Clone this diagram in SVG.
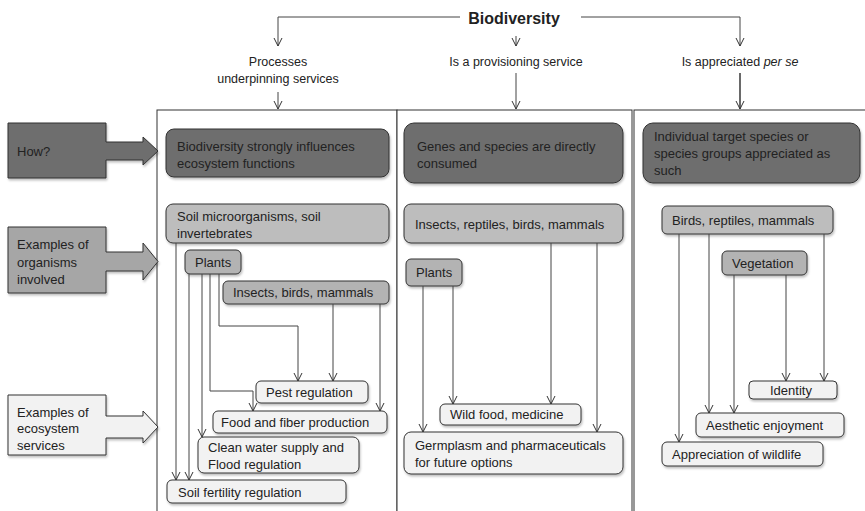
<svg xmlns="http://www.w3.org/2000/svg" width="865" height="511" viewBox="0 0 865 511">
<defs>
<filter id="sh" x="-10%" y="-10%" width="120%" height="130%">
<feDropShadow dx="1" dy="2" stdDeviation="1.2" flood-color="#000" flood-opacity="0.25"/>
</filter>
<marker id="ah" viewBox="-9 -5 10 10" refX="0" refY="0" markerWidth="10" markerHeight="10" markerUnits="userSpaceOnUse" orient="auto">
<path d="M-8,-4 L0,0 L-8,4" fill="none" stroke="#333" stroke-width="1"/>
</marker>
</defs>
<style>
text{font-family:"Liberation Sans",Arial,sans-serif;font-size:13px;fill:#222}
.hd{font-size:12.5px}
.col{fill:#fff;stroke:#333;stroke-width:1}
.n{stroke:#333;stroke-width:1;filter:url(#sh)}
.dk{fill:#6e6e6e}
.md{fill:#bdbdbd}
.pl{fill:#b3b3b3}
.lt{fill:#f2f2f2}
.c{fill:none;stroke:#444;stroke-width:1;marker-end:url(#ah)}
.blk{stroke:#333;stroke-width:1;filter:url(#sh)}
</style>

<rect width="865" height="511" fill="#fff"/>

<g id="columns">
<rect class="col" x="157" y="110" width="240" height="420"/>
<rect class="col" x="397" y="110" width="235" height="420"/>
<rect class="col" x="634" y="110" width="240" height="420"/>
</g>

<g id="title">
<text x="514" y="24" text-anchor="middle" style="font-size:16px;font-weight:bold">Biodiversity</text>
</g>
<g id="label-processes">
<text class="hd" x="278" y="66" text-anchor="middle">Processes</text>
<text class="hd" x="278" y="83" text-anchor="middle">underpinning services</text>
</g>
<g id="label-provisioning">
<text class="hd" x="516" y="66" text-anchor="middle">Is a provisioning service</text>
</g>
<g id="label-perse">
<text class="hd" x="740" y="66" text-anchor="middle">Is appreciated <tspan font-style="italic">per se</tspan></text>
</g>

<g id="arrow-how">
<polygon class="blk" fill="#6e6e6e" points="8,123 106,123 106,142 143,142 143,137 158,151 143,165 143,160 106,160 106,178 8,178"/>
<text x="17" y="156">How?</text>
</g>
<g id="arrow-organisms">
<polygon class="blk" fill="#a6a6a6" points="8,227 106,227 106,252 143,252 143,243 158,261.5 143,280 143,271 106,271 106,293 8,293"/>
<text x="17" y="249">Examples of</text>
<text x="17" y="267">organisms</text>
<text x="17" y="284">involved</text>
</g>
<g id="arrow-services">
<polygon class="blk" fill="#f2f2f2" points="8,395 106,395 106,416 143,416 143,411 158,427 143,443 143,438 106,438 106,455 8,455"/>
<text x="17" y="417">Examples of</text>
<text x="17" y="433">ecosystem</text>
<text x="17" y="450">services</text>
</g>

<!-- Column 1 -->
<g id="c1-how">
<rect class="n dk" x="166" y="129" width="223" height="48" rx="8"/>
<text x="177" y="151">Biodiversity strongly influences</text>
<text x="177" y="168">ecosystem functions</text>
</g>
<g id="c1-soil">
<rect class="n md" x="166" y="204" width="223" height="39" rx="7"/>
<text x="177" y="221">Soil microorganisms, soil</text>
<text x="177" y="238">invertebrates</text>
</g>
<g id="c1-plants">
<rect class="n pl" x="185" y="250" width="56" height="24" rx="5"/>
<text x="195" y="267">Plants</text>
</g>
<g id="c1-insects">
<rect class="n pl" x="223" y="281" width="166" height="23" rx="5"/>
<text x="233" y="297">Insects, birds, mammals</text>
</g>
<g id="c1-pest">
<rect class="n lt" x="256" y="381" width="112" height="22" rx="5"/>
<text x="266" y="397">Pest regulation</text>
</g>
<g id="c1-food">
<rect class="n lt" x="213" y="411" width="174" height="22" rx="5"/>
<text x="221" y="427">Food and fiber production</text>
</g>
<g id="c1-water">
<rect class="n lt" x="198" y="437" width="161" height="36" rx="6"/>
<text x="208" y="452">Clean water supply and</text>
<text x="208" y="469">Flood regulation</text>
</g>
<g id="c1-soilfert">
<rect class="n lt" x="167" y="480" width="179" height="23" rx="5"/>
<text x="178" y="497">Soil fertility regulation</text>
</g>

<!-- Column 2 -->
<g id="c2-how">
<rect class="n dk" x="404" y="123" width="219" height="60" rx="10"/>
<text x="417" y="151">Genes and species are directly</text>
<text x="417" y="168">consumed</text>
</g>
<g id="c2-insects">
<rect class="n md" x="404" y="204" width="219" height="39" rx="7"/>
<text x="415" y="229">Insects, reptiles, birds, mammals</text>
</g>
<g id="c2-plants">
<rect class="n pl" x="406" y="259" width="56" height="27" rx="5"/>
<text x="416" y="277">Plants</text>
</g>
<g id="c2-wild">
<rect class="n lt" x="440" y="404" width="141" height="21" rx="5"/>
<text x="450" y="419">Wild food, medicine</text>
</g>
<g id="c2-germ">
<rect class="n lt" x="404" y="432" width="219" height="42" rx="7"/>
<text x="415" y="450">Germplasm and pharmaceuticals</text>
<text x="415" y="467">for future options</text>
</g>

<!-- Column 3 -->
<g id="c3-how">
<rect class="n dk" x="643" y="123" width="217" height="60" rx="10"/>
<text x="654" y="141">Individual target species or</text>
<text x="654" y="158">species groups appreciated as</text>
<text x="654" y="175">such</text>
</g>
<g id="c3-birds">
<rect class="n md" x="662" y="206" width="171" height="28" rx="5"/>
<text x="672" y="225">Birds, reptiles, mammals</text>
</g>
<g id="c3-veg">
<rect class="n pl" x="722" y="251" width="85" height="24" rx="5"/>
<text x="732" y="268">Vegetation</text>
</g>
<g id="c3-identity">
<rect class="n lt" x="749" y="381" width="88" height="18" rx="4"/>
<text x="770" y="395">Identity</text>
</g>
<g id="c3-aesthetic">
<rect class="n lt" x="696" y="413" width="148" height="24" rx="5"/>
<text x="706" y="430">Aesthetic enjoyment</text>
</g>
<g id="c3-appreciation">
<rect class="n lt" x="662" y="442" width="161" height="24" rx="5"/>
<text x="672" y="459">Appreciation of wildlife</text>
</g>

<g id="connectors">
<path class="c" d="M460,17 H278 V46"/>
<path class="c" d="M516,36 V46"/>
<path class="c" d="M581,17 H740 V46"/>
<path class="c" d="M278,92 V109"/>
<path class="c" d="M516,73 V109"/>
<path class="c" d="M740,73 V109" style="stroke-width:1.6"/>

<path class="c" d="M176,243 V480"/>
<path class="c" d="M189,274 V480"/>
<path class="c" d="M202,274 V437"/>
<path class="c" d="M210,274 V391 H253 V411"/>
<path class="c" d="M219,274 V326 H298 V381"/>
<path class="c" d="M333,304 V381"/>
<path class="c" d="M380,304 V411"/>

<path class="c" d="M423,286 V432"/>
<path class="c" d="M453,286 V404"/>
<path class="c" d="M551,243 V404"/>
<path class="c" d="M597,243 V432"/>

<path class="c" d="M679,234 V442"/>
<path class="c" d="M709,234 V413"/>
<path class="c" d="M734,275 V413"/>
<path class="c" d="M786,275 V381"/>
<path class="c" d="M824,234 V381"/>
</g>
</svg>
